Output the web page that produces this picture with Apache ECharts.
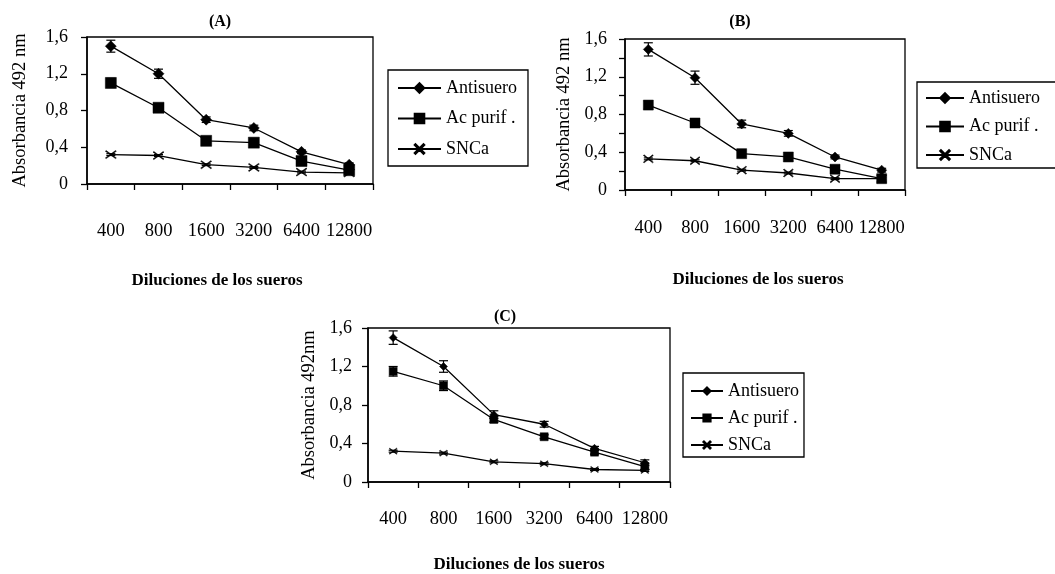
<!DOCTYPE html>
<html>
<head>
<meta charset="utf-8">
<script src="https://cdn.jsdelivr.net/npm/echarts@6/dist/echarts.min.js"></script>
<style>
html,body{margin:0;padding:0;background:#fff;}
#chart{width:1055px;height:574px;}
</style>
</head>
<body>
<div id="chart"></div>
<script>
// ---------- data ----------
const categories = ['400', '800', '1600', '3200', '6400', '12800'];
const yTickLabels = ['0', '0,4', '0,8', '1,2', '1,6'];
const seriesNames = ['Antisuero', 'Ac purif .', 'SNCa'];
const panelTitles = ['(A)', '(B)', '(C)'];
const yNames = ['Absorbancia 492 nm', 'Absorbancia 492 nm', 'Absorbancia 492nm'];
const xName = 'Diluciones de los sueros';

const antiA = [1.50, 1.20, 0.70, 0.61, 0.35, 0.21];
const acA   = [1.10, 0.83, 0.47, 0.45, 0.25, 0.15];
const sncaA = [0.32, 0.31, 0.21, 0.18, 0.13, 0.12];
const errAntiA = [0.065, 0.05, 0.03, 0.03, 0.02, 0.02];
const errAcA   = [0.05, 0.035, 0.02, 0.02, 0.02, 0.01];
const errSncaA = [0.01, 0.01, 0.01, 0.01, 0.01, 0.01];

const antiB = [1.49, 1.19, 0.70, 0.60, 0.35, 0.21];
const acB   = [0.90, 0.71, 0.385, 0.35, 0.22, 0.12];
const sncaB = [0.33, 0.31, 0.21, 0.18, 0.12, 0.12];
const errAntiB = [0.07, 0.07, 0.04, 0.03, 0.02, 0.02];
const errAcB   = [0.04, 0.04, 0.03, 0.02, 0.03, 0.02];
const errSncaB = [0.01, 0.01, 0.01, 0.01, 0.01, 0.01];

const antiC = [1.50, 1.20, 0.70, 0.60, 0.35, 0.20];
const acC   = [1.15, 1.00, 0.65, 0.47, 0.31, 0.16];
const sncaC = [0.32, 0.30, 0.21, 0.19, 0.13, 0.12];
const errAntiC = [0.07, 0.06, 0.04, 0.03, 0.02, 0.03];
const errAcC   = [0.05, 0.05, 0.03, 0.02, 0.02, 0.03];
const errSncaC = [0.01, 0.01, 0.01, 0.01, 0.01, 0.01];

// ---------- layout ----------
const FONT = 'Liberation Serif';
const panels = [
  { vals: [antiA, acA, sncaA], errs: [errAntiA, errAcA, errSncaA],
    grid: {left: 87, top: 37, width: 286, height: 147},
    title: [220, 14], yGap: 57, yLabelMargin: 19, xLabelMargin: 38, xNameGap: 88, xNamePad: [0, 26, 0, 0],
    minor: false, sym: [11, 11, [11, 8]],
    legend: {left: 388, top: 70, itemWidth: 43, itemHeight: 12, itemGap: 12.5, padding: [9, 11, 8, 9]} },
  { vals: [antiB, acB, sncaB], errs: [errAntiB, errAcB, errSncaB],
    grid: {left: 625, top: 39, width: 280, height: 151},
    title: [740, 14], yGap: 51, yLabelMargin: 18, xLabelMargin: 29, xNameGap: 81, xNamePad: [0, 14, 0, 0],
    minor: true, sym: [10, 10, [10, 8]],
    legend: {left: 917, top: 82, itemWidth: 38, itemHeight: 12, itemGap: 10.5, padding: [7, 24, 4, 8]} },
  { vals: [antiC, acC, sncaC], errs: [errAntiC, errAcC, errSncaC],
    grid: {left: 368, top: 328, width: 302, height: 155},
    title: [505, 309], yGap: 49, yLabelMargin: 16, xLabelMargin: 28, xNameGap: 74, xNamePad: [0, 0, 0, 0],
    minor: false, sym: [8, 8, [8, 6]],
    legend: {left: 683, top: 373, itemWidth: 32, itemHeight: 9, itemGap: 9, padding: [9, 5, 3, 7]} }
];

const crossPath = 'path://M0,0.8L0.8,0L5,4.2L9.2,0L10,0.8L5.8,5L10,9.2L9.2,10L5,5.8L0.8,10L0,9.2L4.2,5Z';
const symbols = ['diamond', 'rect', crossPath];

function renderErr(params, api) {
  const x = api.value(0), lo = api.value(1), hi = api.value(2);
  const p1 = api.coord([x, hi]);
  const p2 = api.coord([x, lo]);
  const w = 4.5;
  const st = {stroke: '#000', lineWidth: 1.2};
  return {type: 'group', children: [
    {type: 'line', shape: {x1: p1[0], y1: p1[1], x2: p2[0], y2: p2[1]}, style: st},
    {type: 'line', shape: {x1: p1[0] - w, y1: p1[1], x2: p1[0] + w, y2: p1[1]}, style: st},
    {type: 'line', shape: {x1: p2[0] - w, y1: p2[1], x2: p2[0] + w, y2: p2[1]}, style: st}
  ]};
}

const option = {
  backgroundColor: '#fff',
  animation: false,
  textStyle: {fontFamily: FONT, color: '#000'},
  title: [], grid: [], xAxis: [], yAxis: [], legend: [], series: []
};

panels.forEach((p, i) => {
  option.title.push({
    text: panelTitles[i], left: p.title[0], top: p.title[1], textAlign: 'center', padding: 0,
    textStyle: {fontFamily: FONT, fontSize: 16, fontWeight: 'bold', color: '#000'}
  });
  option.grid.push(Object.assign({show: true, borderColor: '#000', borderWidth: 1.3, backgroundColor: 'transparent'}, p.grid));
  option.xAxis.push({
    type: 'category', gridIndex: i, data: categories, boundaryGap: true,
    name: xName, nameLocation: 'middle', nameGap: p.xNameGap,
    nameTextStyle: {fontFamily: FONT, fontSize: 17, fontWeight: 'bold', color: '#000', padding: p.xNamePad},
    axisLine: {lineStyle: {color: '#000', width: 1.5}},
    axisTick: {show: true, length: 6, lineStyle: {color: '#000', width: 1.3}},
    axisLabel: {interval: 0, margin: p.xLabelMargin, fontFamily: FONT, fontSize: 18.5, color: '#000'},
    splitLine: {show: false}
  });
  option.yAxis.push({
    type: 'value', gridIndex: i, min: 0, max: 1.6, interval: 0.4,
    name: yNames[i], nameLocation: 'middle', nameGap: p.yGap, nameRotate: 90,
    nameTextStyle: {fontFamily: FONT, fontSize: 18.5, color: '#000'},
    axisLine: {show: true, lineStyle: {color: '#000', width: 1.5}},
    axisTick: {show: true, length: 6, lineStyle: {color: '#000', width: 1.3}},
    minorTick: {show: p.minor, splitNumber: 2, length: 6, lineStyle: {color: '#000', width: 1.3}},
    axisLabel: {margin: p.yLabelMargin, fontFamily: FONT, fontSize: 18, color: '#000',
      formatter: v => yTickLabels[Math.round(v / 0.4)]},
    splitLine: {show: false}
  });
  option.legend.push(Object.assign({
    orient: 'vertical', data: seriesNames, borderColor: '#000', borderWidth: 1.3,
    backgroundColor: '#fff', itemStyle: {color: '#000'},
    textStyle: {fontFamily: FONT, fontSize: 18, color: '#000'}, selectedMode: false
  }, p.legend));
  seriesNames.forEach((nm, k) => {
    option.series.push({
      type: 'custom', name: 'err' + i + k, xAxisIndex: i, yAxisIndex: i,
      renderItem: renderErr, encode: {x: 0, y: [1, 2]}, silent: true, z: 2,
      data: p.vals[k].map((v, j) => [j, v - p.errs[k][j], v + p.errs[k][j]])
    });
    option.series.push({
      type: 'line', name: nm, xAxisIndex: i, yAxisIndex: i, data: p.vals[k],
      symbol: symbols[k], symbolSize: p.sym[k], symbolKeepAspect: k !== 2, showAllSymbol: true,
      lineStyle: {color: '#000', width: 1.3},
      itemStyle: {color: '#000', borderColor: '#000', borderWidth: 0.5},
      z: 3, silent: true
    });
  });
});

const chart = echarts.init(document.getElementById('chart'), null, {renderer: 'canvas'});
chart.setOption(option);
</script>
</body>
</html>
